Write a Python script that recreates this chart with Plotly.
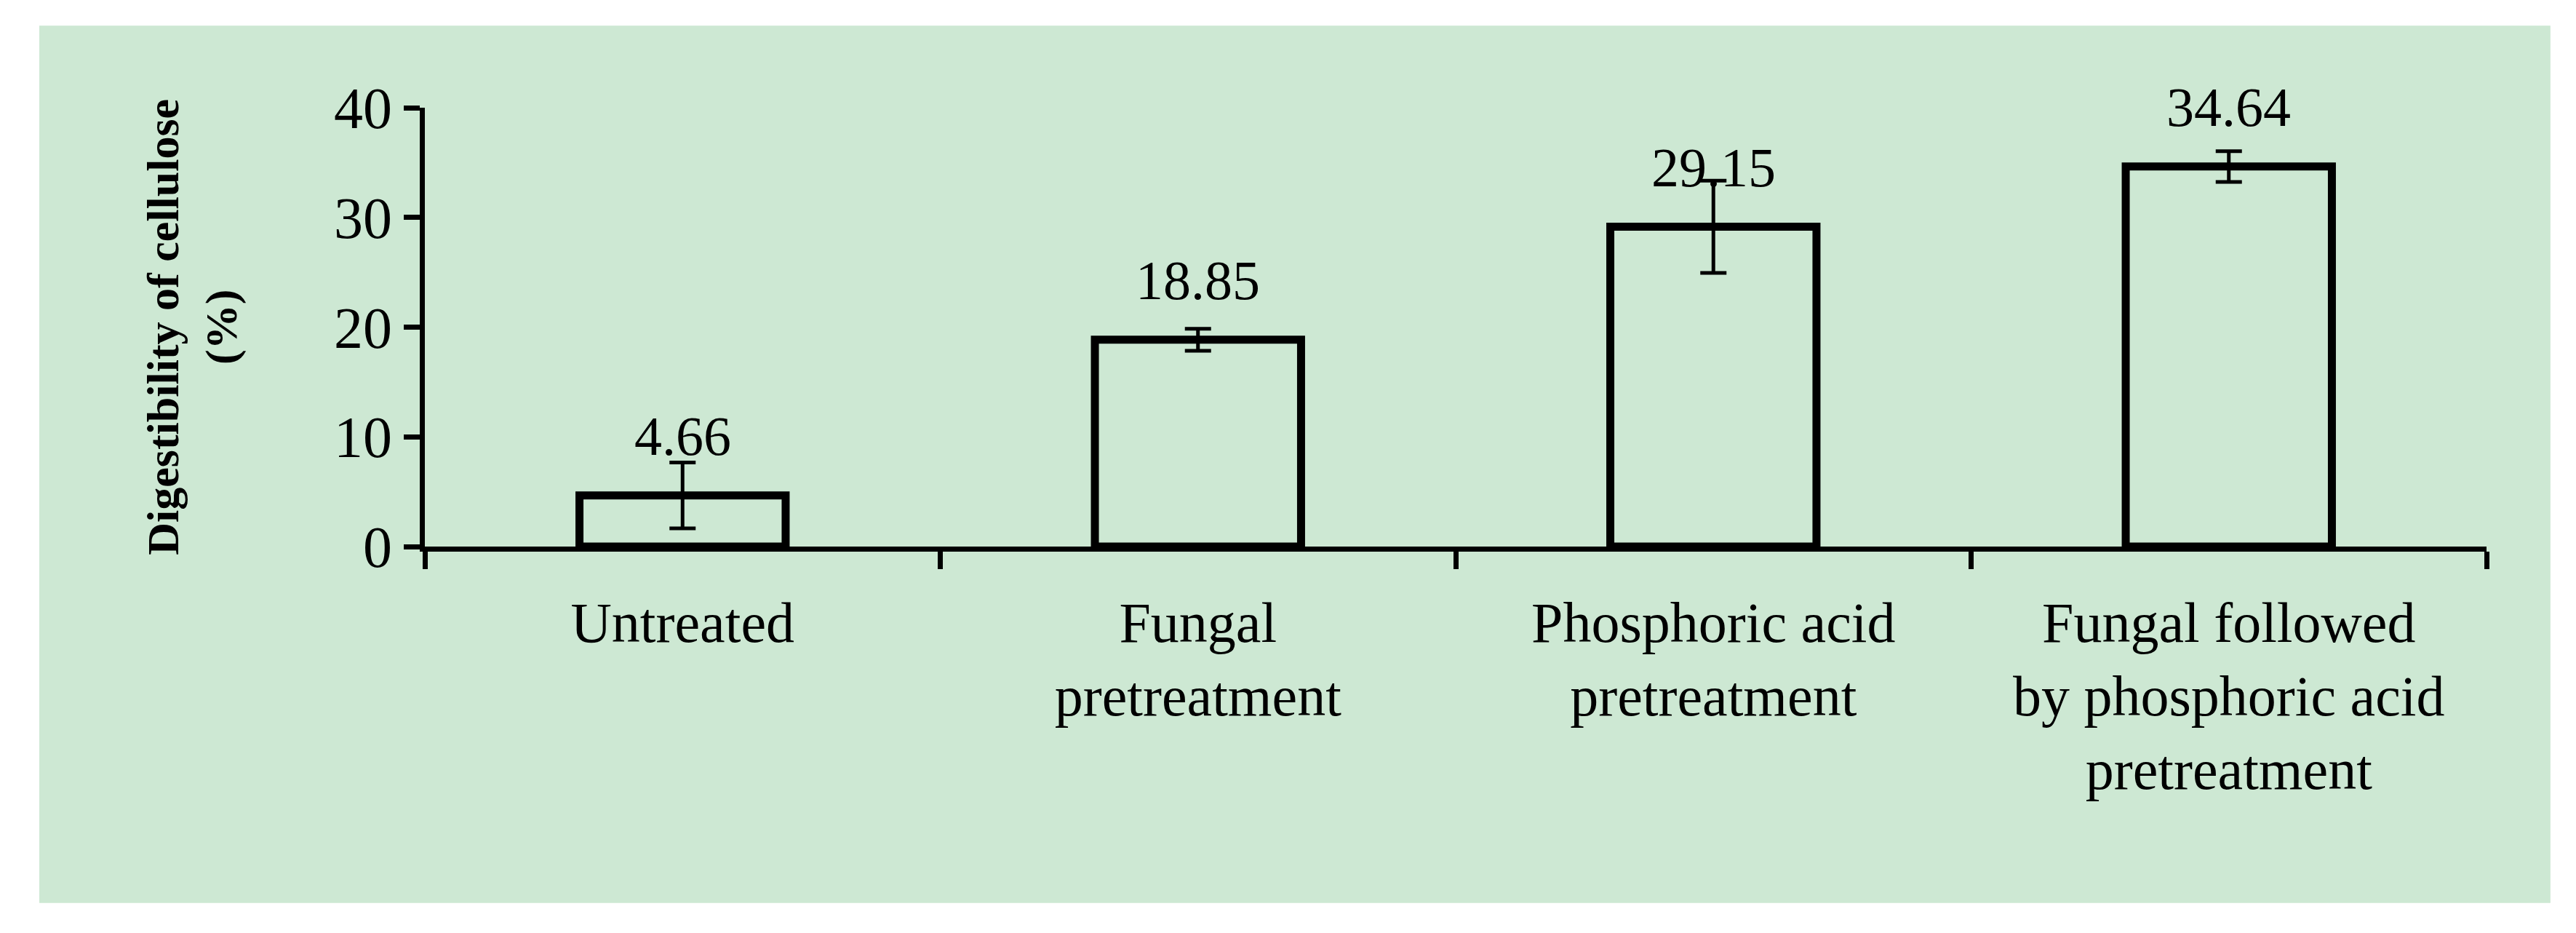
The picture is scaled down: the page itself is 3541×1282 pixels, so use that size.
import plotly.graph_objects as go

categories = ["Untreated", "Fungal<br>pretreatment", "Phosphoric acid<br>pretreatment",
              "Fungal followed<br>by phosphoric acid<br>pretreatment"]
values = [4.66, 18.85, 29.15, 34.64]
errors = [3.0, 1.0, 4.2, 1.4]
labels = ["4.66", "18.85", "29.15", "34.64"]
yticks = [0, 10, 20, 30, 40]

F = "Liberation Serif, Times New Roman, serif"
xs = list(range(len(categories)))

fig = go.Figure(go.Bar(
    x=xs, y=values, width=0.4,
    marker=dict(color="rgba(0,0,0,0)", line=dict(color="black", width=11)),
    error_y=dict(type="data", array=errors, color="black", thickness=5, width=18),
))
for x, v, t in zip(xs, values, labels):
    fig.add_annotation(x=x, y=v, text=t, showarrow=False, yshift=82,
                       font=dict(family=F, size=76, color="black"))
fig.add_annotation(xref="paper", yref="paper", x=-0.14, y=0.5, textangle=-90,
                   text="<b>Digestibility of cellulose<br>(%)</b>", showarrow=False,
                   font=dict(family=F, size=62, color="black"))
fig.add_shape(type="rect", xref="paper", yref="paper", layer="below",
              x0=-0.187, x1=1.031, y0=-0.812, y1=1.187,
              fillcolor="#cde8d3", line=dict(width=0))
fig.update_layout(
    width=3541, height=1282, paper_bgcolor="white", plot_bgcolor="rgba(0,0,0,0)",
    margin=dict(l=576, r=131, t=140, b=539), showlegend=False,
    xaxis=dict(range=[-0.5, 3.5], tickvals=xs, ticktext=categories, ticks="",
               showline=True, linecolor="black", linewidth=7, showgrid=False, zeroline=False,
               tickfont=dict(family=F, size=78, color="black"), ticklabelstandoff=30,
               minor=dict(ticks="outside", tick0=-0.5, dtick=1, ticklen=24,
                          tickwidth=7, tickcolor="black", showgrid=False)),
    yaxis=dict(range=[0, 40], tickvals=yticks, ticks="outside", ticklen=22, tickwidth=7,
               tickcolor="black", showline=True, linecolor="black", linewidth=7,
               showgrid=False, zeroline=False,
               tickfont=dict(family=F, size=80, color="black")),
)
fig.write_html("out.html")
